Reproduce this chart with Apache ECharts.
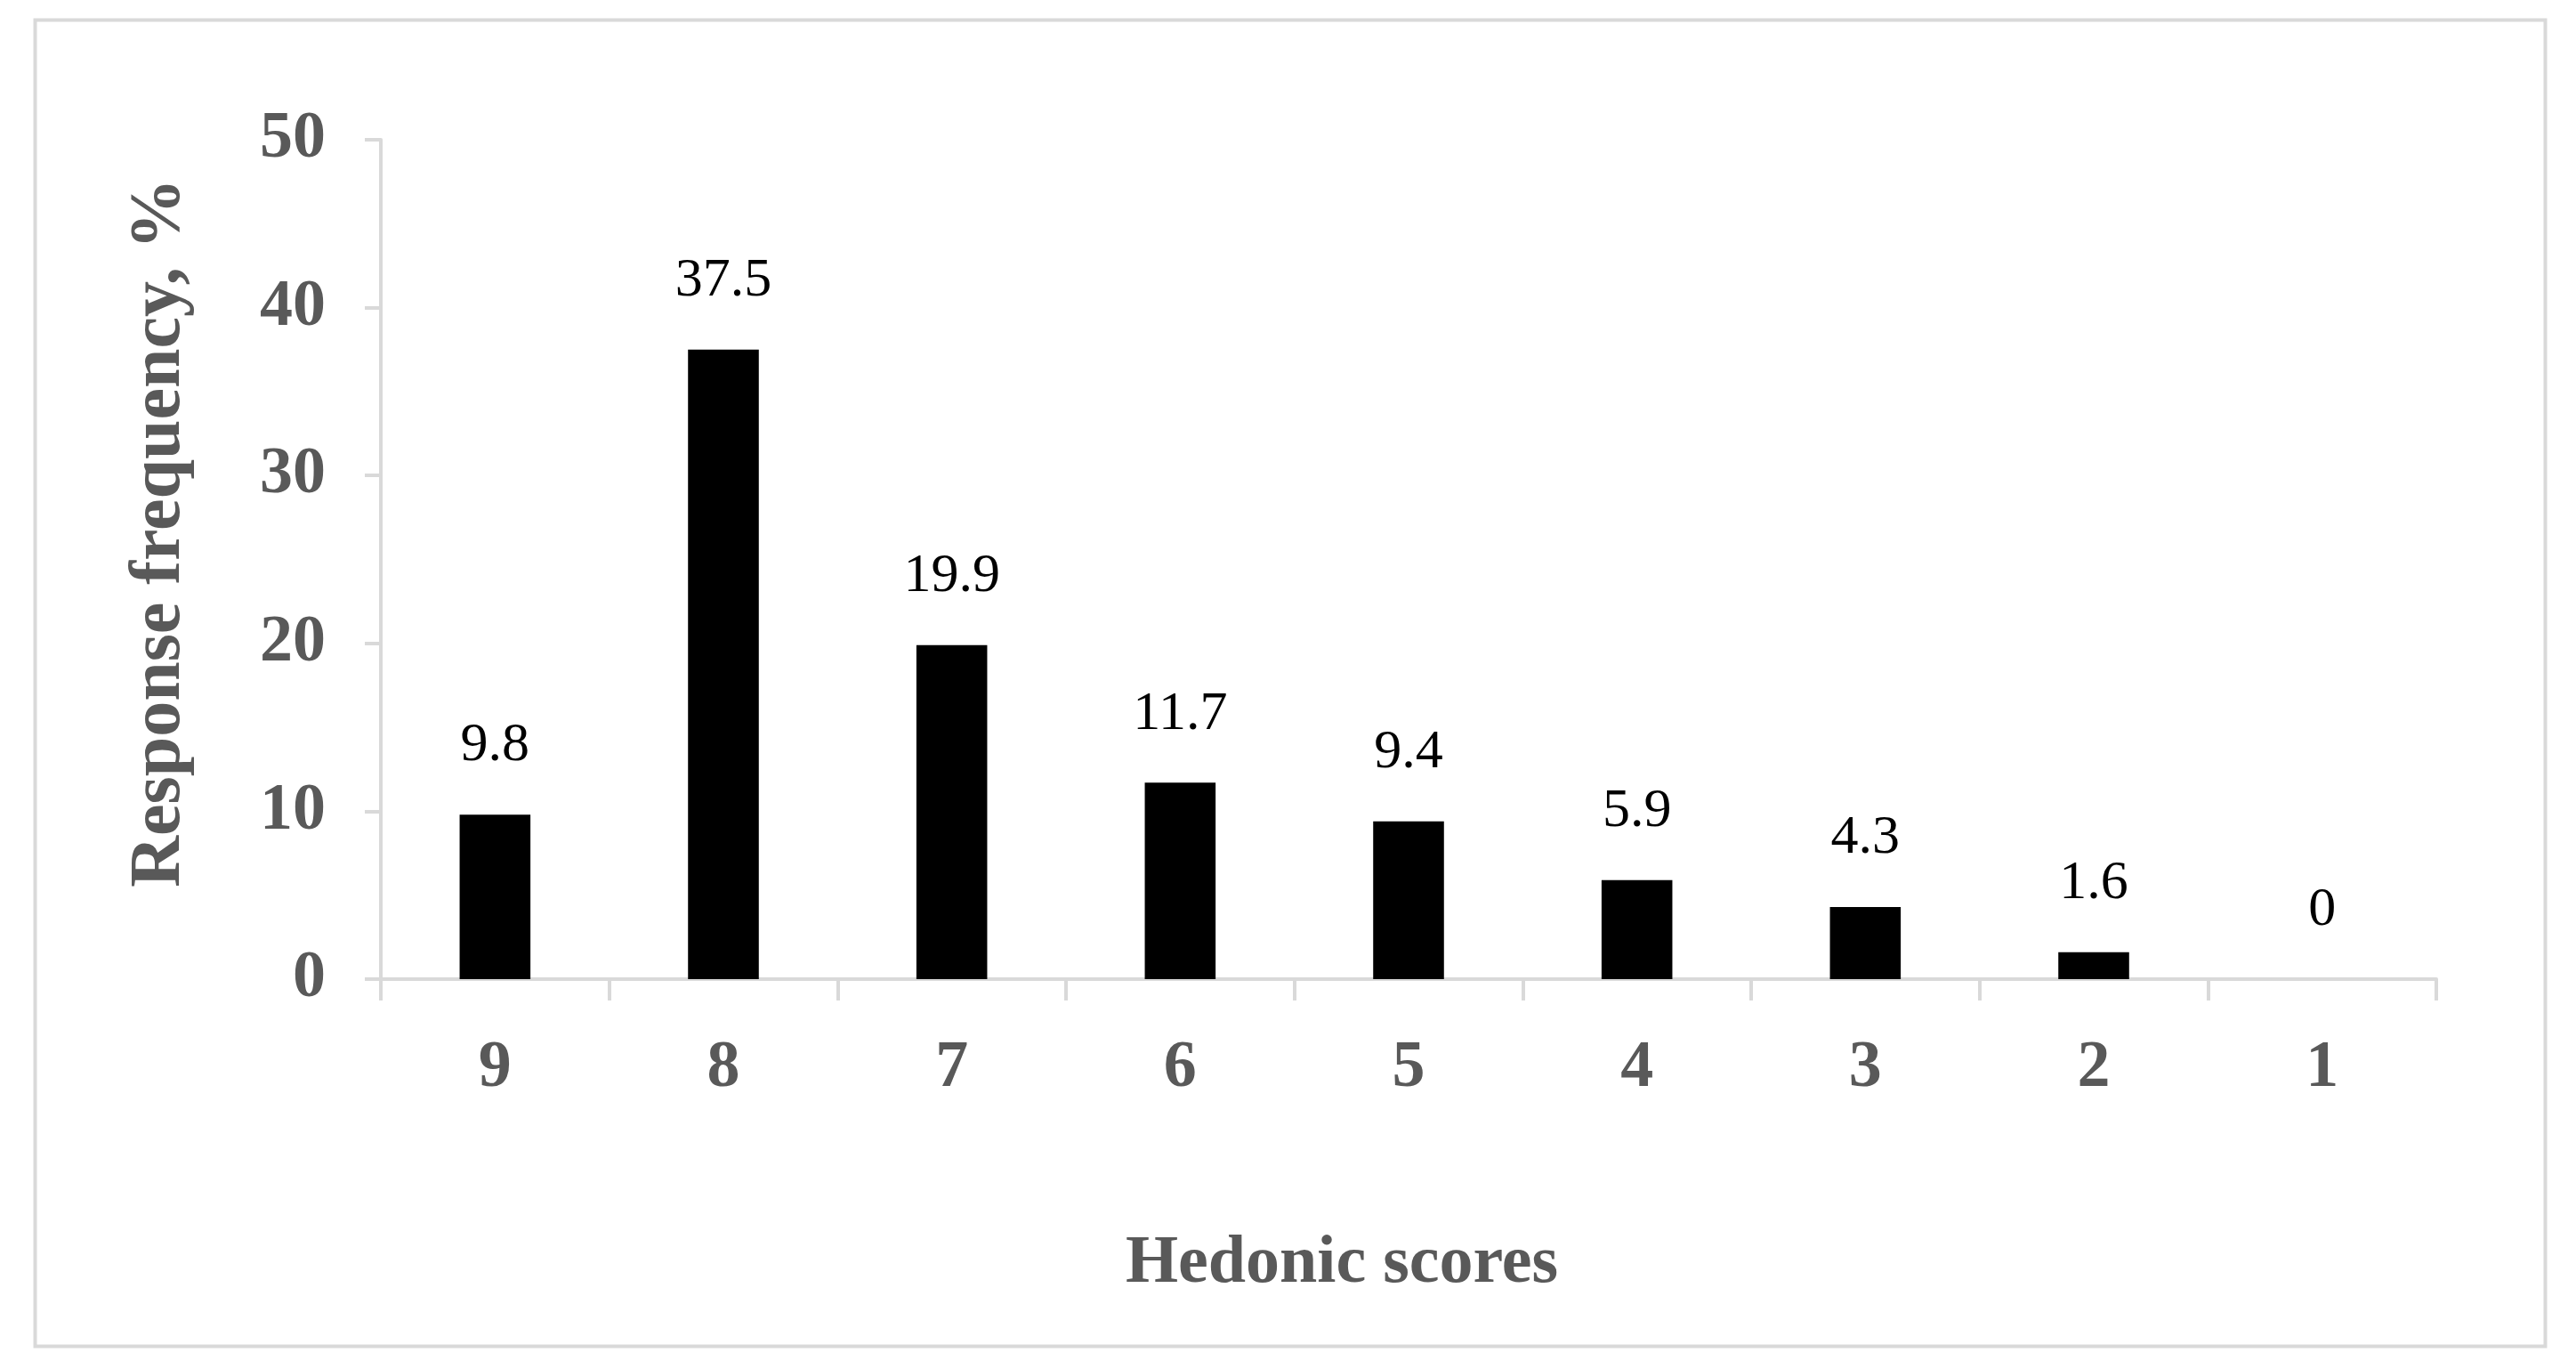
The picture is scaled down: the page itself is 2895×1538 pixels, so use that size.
<!DOCTYPE html>
<html>
<head>
<meta charset="utf-8">
<script src="https://cdn.jsdelivr.net/npm/echarts@6/dist/echarts.min.js"></script>
<style>
html,body{margin:0;padding:0;background:#fff;}
#chart{width:2895px;height:1538px;}
</style>
</head>
<body>
<div id="chart"></div>
<script>
const categories = ['9', '8', '7', '6', '5', '4', '3', '2', '1'];
const frequencies = [9.8, 37.5, 19.9, 11.7, 9.4, 5.9, 4.3, 1.6, 0];
const yTicks = [0, 10, 20, 30, 40, 50];

const chart = echarts.init(document.getElementById('chart'));
const serif = '"Liberation Serif", "DejaVu Serif", serif';
const axisGray = '#d9d9d9';
const textGray = '#595959';

chart.setOption({
  animation: false,
  backgroundColor: '#ffffff',
  graphic: [{
    type: 'rect',
    left: 37, top: 20,
    shape: { width: 2821, height: 1490 },
    style: { fill: 'none', stroke: '#d9d9d9', lineWidth: 4 },
    silent: true
  }],
  grid: { left: 428, right: 157, top: 157, bottom: 438, containLabel: false },
  xAxis: {
    type: 'category',
    data: categories,
    boundaryGap: true,
    axisLine: { lineStyle: { color: axisGray, width: 4 } },
    axisTick: { show: true, alignWithLabel: false, length: 24, lineStyle: { color: axisGray, width: 4 } },
    axisLabel: { margin: 64, fontFamily: serif, fontWeight: 'bold', fontSize: 74, color: textGray },
    name: 'Hedonic scores',
    nameLocation: 'middle',
    nameGap: 282,
    nameTextStyle: { fontFamily: serif, fontWeight: 'bold', fontSize: 76, color: textGray, padding: [0, 150, 0, 0] }
  },
  yAxis: {
    type: 'value',
    min: yTicks[0],
    max: yTicks[yTicks.length - 1],
    interval: yTicks[1] - yTicks[0],
    splitLine: { show: false },
    axisLine: { show: true, lineStyle: { color: axisGray, width: 4 } },
    axisTick: { show: true, length: 18, lineStyle: { color: axisGray, width: 4 } },
    axisLabel: { margin: 62, fontFamily: serif, fontWeight: 'bold', fontSize: 74, color: textGray },
    name: 'Response frequency, %',
    nameLocation: 'middle',
    nameRotate: 90,
    nameGap: 208,
    nameTextStyle: { fontFamily: serif, fontWeight: 'bold', fontSize: 80, color: textGray, padding: [0, 0, 0, 60] }
  },
  series: [{
    type: 'bar',
    data: frequencies,
    barWidth: '31%',
    itemStyle: { color: '#000000' },
    label: {
      show: true,
      position: 'top',
      distance: 46,
      fontFamily: serif,
      fontSize: 62,
      color: '#000000'
    }
  }]
});
</script>
</body>
</html>
